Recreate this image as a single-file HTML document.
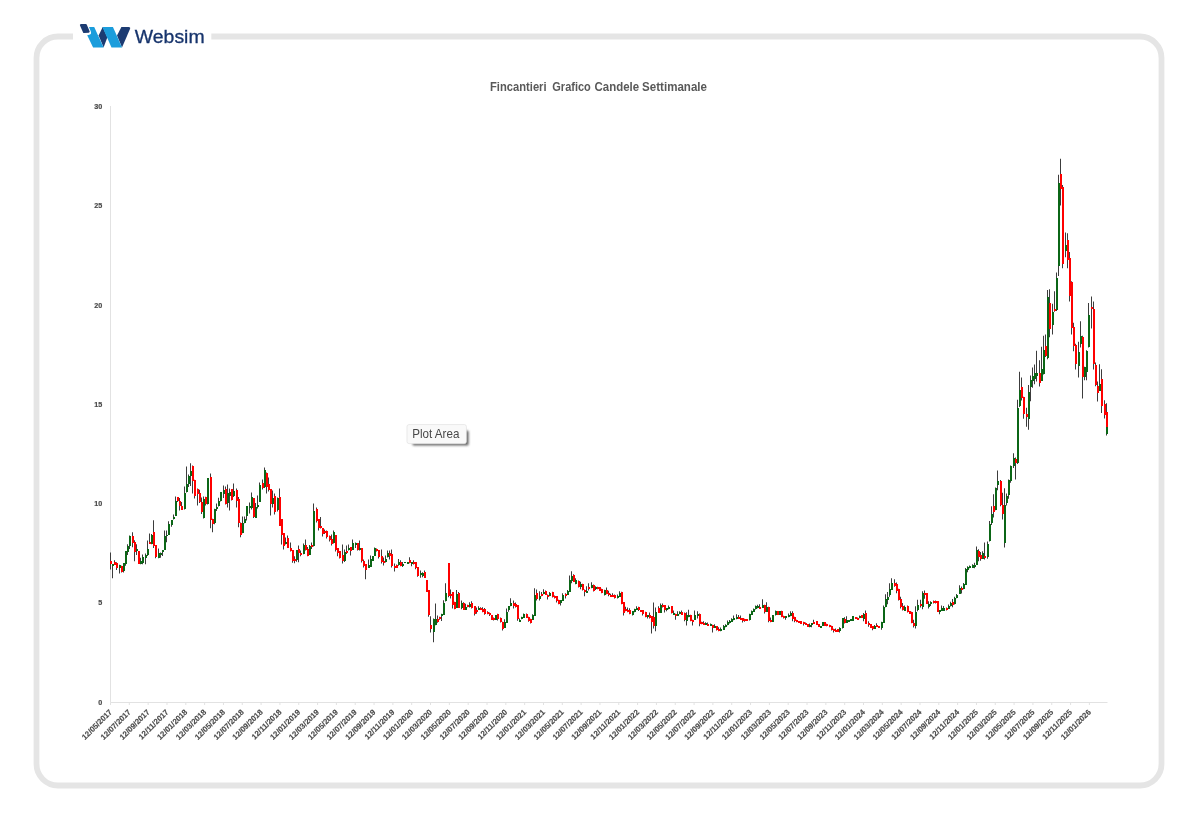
<!DOCTYPE html>
<html lang="it">
<head>
<meta charset="utf-8">
<title>Fincantieri Grafico Candele Settimanale</title>
<style>
html, body { margin: 0; padding: 0; background: #ffffff; }
body { width: 1198px; height: 822px; position: relative; overflow: hidden; font-family: "Liberation Sans", sans-serif; }
</style>
</head>
<body>
<svg style="position:absolute;left:0;top:0;display:block" width="1198" height="822" viewBox="0 0 1198 822">
<defs><filter id="sh" x="-10%" y="-30%" width="120%" height="160%"><feGaussianBlur stdDeviation="0.9"/></filter></defs>
<rect x="36.5" y="36.5" width="1125" height="749" rx="21.5" ry="21.5" fill="none" stroke="#e5e5e5" stroke-width="5.8"/>
<rect x="73" y="20" width="138.3" height="32" fill="#ffffff"/>
<g id="logo">
<path d="M80.9 25.1H85.9L88.7 31.7L84 32z" fill="#1c3b72" stroke="#1c3b72" stroke-width="2" stroke-linejoin="round"/>
<path d="M98.6 35.5L102.7 27L107.4 37.2L103.6 47.4z" fill="#1c3b72"/>
<path d="M121.4 27h7.2q2.2 0 1.4 2l-8 18.4L117 35.5z" fill="#1c3b72"/>
<path d="M89 27h5.2l9.4 20.4H93.1l-5.9-12.2q2.6-0.3 3.6-1.3q0.6-1 0-2.4z" fill="#1b9ddc"/>
<path d="M102.4 27h10.56l9.04 20.4h-10.5z" fill="#1b9ddc"/>
<text x="134.8" y="43.35" font-family="'Liberation Sans', sans-serif" font-size="18" fill="#17346c" stroke="#17346c" stroke-width="0.3" textLength="69.8" lengthAdjust="spacingAndGlyphs">Websim</text>
</g>
<text y="90.9" font-family="'Liberation Sans', sans-serif" font-weight="bold" font-size="12.2" fill="#595959"><tspan x="490" textLength="56.6" lengthAdjust="spacingAndGlyphs">Fincantieri</tspan> <tspan x="552.3" textLength="38.5" lengthAdjust="spacingAndGlyphs">Grafico</tspan> <tspan x="594.6" textLength="44.5" lengthAdjust="spacingAndGlyphs">Candele</tspan> <tspan x="642.1" textLength="64.9" lengthAdjust="spacingAndGlyphs">Settimanale</tspan></text>
<g id="axes">
<path d="M110.5 106.0V702.5H1107.5" stroke="#e2e2e2" stroke-width="1" fill="none"/>
<path d="M110.50 702.5v2.5M129.32 702.5v2.5M148.15 702.5v2.5M166.98 702.5v2.5M185.80 702.5v2.5M204.62 702.5v2.5M223.45 702.5v2.5M242.28 702.5v2.5M261.10 702.5v2.5M279.93 702.5v2.5M298.75 702.5v2.5M317.58 702.5v2.5M336.40 702.5v2.5M355.23 702.5v2.5M374.05 702.5v2.5M392.88 702.5v2.5M411.70 702.5v2.5M430.53 702.5v2.5M449.35 702.5v2.5M468.18 702.5v2.5M487.00 702.5v2.5M505.83 702.5v2.5M524.65 702.5v2.5M543.48 702.5v2.5M562.30 702.5v2.5M581.12 702.5v2.5M599.95 702.5v2.5M618.78 702.5v2.5M637.60 702.5v2.5M656.43 702.5v2.5M675.25 702.5v2.5M694.08 702.5v2.5M712.90 702.5v2.5M731.73 702.5v2.5M750.55 702.5v2.5M769.38 702.5v2.5M788.20 702.5v2.5M807.03 702.5v2.5M825.85 702.5v2.5M844.68 702.5v2.5M863.50 702.5v2.5M882.33 702.5v2.5M901.15 702.5v2.5M919.98 702.5v2.5M938.80 702.5v2.5M957.63 702.5v2.5M976.45 702.5v2.5M995.28 702.5v2.5M1014.10 702.5v2.5M1032.93 702.5v2.5M1051.75 702.5v2.5M1070.58 702.5v2.5M1089.40 702.5v2.5" stroke="#e2e2e2" stroke-width="1" fill="none"/>
<g font-family="'Liberation Sans', sans-serif" font-weight="bold" font-size="7.2" fill="#4a4a4a" stroke="#4a4a4a" stroke-width="0.2" text-anchor="end">
<text x="102.2" y="704.55">0</text>
<text x="102.2" y="605.29">5</text>
<text x="102.2" y="506.03">10</text>
<text x="102.2" y="406.77">15</text>
<text x="102.2" y="307.52">20</text>
<text x="102.2" y="208.26">25</text>
<text x="102.2" y="109.00">30</text>
</g>
<g font-family="'Liberation Sans', sans-serif" font-weight="bold" font-size="7.8" fill="#4a4a4a" stroke="#4a4a4a" stroke-width="0.15" text-anchor="end">
<text transform="translate(112.60 712.6) rotate(-45)">12/05/2017</text>
<text transform="translate(131.42 712.6) rotate(-45)">12/07/2017</text>
<text transform="translate(150.25 712.6) rotate(-45)">12/09/2017</text>
<text transform="translate(169.08 712.6) rotate(-45)">12/11/2017</text>
<text transform="translate(187.90 712.6) rotate(-45)">12/01/2018</text>
<text transform="translate(206.72 712.6) rotate(-45)">12/03/2018</text>
<text transform="translate(225.55 712.6) rotate(-45)">12/05/2018</text>
<text transform="translate(244.38 712.6) rotate(-45)">12/07/2018</text>
<text transform="translate(263.20 712.6) rotate(-45)">12/09/2018</text>
<text transform="translate(282.03 712.6) rotate(-45)">12/11/2018</text>
<text transform="translate(300.85 712.6) rotate(-45)">12/01/2019</text>
<text transform="translate(319.68 712.6) rotate(-45)">12/03/2019</text>
<text transform="translate(338.50 712.6) rotate(-45)">12/05/2019</text>
<text transform="translate(357.33 712.6) rotate(-45)">12/07/2019</text>
<text transform="translate(376.15 712.6) rotate(-45)">12/09/2019</text>
<text transform="translate(394.98 712.6) rotate(-45)">12/11/2019</text>
<text transform="translate(413.80 712.6) rotate(-45)">12/01/2020</text>
<text transform="translate(432.63 712.6) rotate(-45)">12/03/2020</text>
<text transform="translate(451.45 712.6) rotate(-45)">12/05/2020</text>
<text transform="translate(470.28 712.6) rotate(-45)">12/07/2020</text>
<text transform="translate(489.10 712.6) rotate(-45)">12/09/2020</text>
<text transform="translate(507.93 712.6) rotate(-45)">12/11/2020</text>
<text transform="translate(526.75 712.6) rotate(-45)">12/01/2021</text>
<text transform="translate(545.58 712.6) rotate(-45)">12/03/2021</text>
<text transform="translate(564.40 712.6) rotate(-45)">12/05/2021</text>
<text transform="translate(583.23 712.6) rotate(-45)">12/07/2021</text>
<text transform="translate(602.05 712.6) rotate(-45)">12/09/2021</text>
<text transform="translate(620.88 712.6) rotate(-45)">12/11/2021</text>
<text transform="translate(639.70 712.6) rotate(-45)">12/01/2022</text>
<text transform="translate(658.53 712.6) rotate(-45)">12/03/2022</text>
<text transform="translate(677.35 712.6) rotate(-45)">12/05/2022</text>
<text transform="translate(696.18 712.6) rotate(-45)">12/07/2022</text>
<text transform="translate(715.00 712.6) rotate(-45)">12/09/2022</text>
<text transform="translate(733.83 712.6) rotate(-45)">12/11/2022</text>
<text transform="translate(752.65 712.6) rotate(-45)">12/01/2023</text>
<text transform="translate(771.48 712.6) rotate(-45)">12/03/2023</text>
<text transform="translate(790.30 712.6) rotate(-45)">12/05/2023</text>
<text transform="translate(809.13 712.6) rotate(-45)">12/07/2023</text>
<text transform="translate(827.95 712.6) rotate(-45)">12/09/2023</text>
<text transform="translate(846.78 712.6) rotate(-45)">12/11/2023</text>
<text transform="translate(865.60 712.6) rotate(-45)">12/01/2024</text>
<text transform="translate(884.43 712.6) rotate(-45)">12/03/2024</text>
<text transform="translate(903.25 712.6) rotate(-45)">12/05/2024</text>
<text transform="translate(922.08 712.6) rotate(-45)">12/07/2024</text>
<text transform="translate(940.90 712.6) rotate(-45)">12/09/2024</text>
<text transform="translate(959.73 712.6) rotate(-45)">12/11/2024</text>
<text transform="translate(978.55 712.6) rotate(-45)">12/01/2025</text>
<text transform="translate(997.38 712.6) rotate(-45)">12/03/2025</text>
<text transform="translate(1016.20 712.6) rotate(-45)">12/05/2025</text>
<text transform="translate(1035.03 712.6) rotate(-45)">12/07/2025</text>
<text transform="translate(1053.85 712.6) rotate(-45)">12/09/2025</text>
<text transform="translate(1072.68 712.6) rotate(-45)">12/11/2025</text>
<text transform="translate(1091.50 712.6) rotate(-45)">12/01/2026</text>
</g>
</g>
<g id="candles">
<path d="M110.5 552.5V569.5M112.5 564V578.25M114.5 560.25V564.75M116.5 562.25V570M119.5 564.75V573.5M121.5 565.75V572.5M123.5 563.25V572.5M125.5 551.25V565.75M127.5 544.25V555M129.5 535.5V549M132.5 532.25V547.25M134.5 540.25V561.25M136.5 544.25V555M140.5 557.75V564.25M142.5 554.5V564.25M145.5 553.5V564.25M147.5 540.5V556M149.5 533.5V544M151.5 534V544.25M153.5 520.25V548M155.5 545.25V558.25M158.5 548.5V558.25M160.5 552.5V557.75M162.5 550.25V556M164.5 530.5V549.75M166.5 530.5V542.25M168.5 521.25V534.75M171.5 520V526.75M173.5 514.5V519.5M175.5 496.5V516M177.5 497V502M179.5 498V510.5M181.5 502V509.75M184.5 486.5V509.5M186.5 466.5V492.5M188.5 474.5V487M190.5 463.25V486M192.5 465.5V493.5M194.5 479.75V498.5M197.5 488.5V505.5M199.5 489.75V503M201.5 497.5V514M203.5 496.5V518.5M205.5 496.75V505.5M207.5 478V504.5M210.5 473.5V528.25M212.5 518.75V532.25M214.5 508.75V524.25M216.5 503.5V511M218.5 497.75V506.5M220.5 492V501.5M223.5 485.5V498M225.5 486.5V504.5M227.5 484.5V507.5M229.5 488.5V510.5M231.5 489V500.5M233.5 483.5V497M236.5 488.5V507.5M238.5 497V527.25M240.5 522.5V537.25M242.5 516.5V533.25M244.5 516.5V523.25M246.5 506V520.5M249.5 502.5V513.5M251.5 492.5V509.5M253.5 498V518M255.5 503V518M257.5 495.5V508.5M259.5 482.5V502M262.5 479.5V489.5M264.5 467.5V488M266.5 472.5V493.5M268.5 477.5V491.5M270.5 489V515.5M272.5 490.5V507.5M274.5 493.5V514.5M277.5 497.5V511.5M279.5 488.5V525.75M281.5 519V544.5M283.5 533V549.5M285.5 537.5V544.5M287.5 535.5V548M290.5 542.5V551.5M292.5 550V562.75M294.5 556.25V563.25M296.5 550V561.75M298.5 545.5V562.25M300.5 550.5V556.25M303.5 543.5V554.25M305.5 539.5V550.5M307.5 547V556.25M309.5 545V555M311.5 542.5V549M313.5 503.5V546.5M316.5 507.5V522.5M318.5 519V530.5M320.5 517V528.5M322.5 528V536.5M324.5 529.5V534M326.5 530.5V538.5M329.5 535.5V541.5M331.5 534.5V545.5M333.5 530.5V543.5M335.5 535V551.5M337.5 548V556.25M339.5 551V558.5M342.5 544.5V563.5M344.5 549.5V562M346.5 545.5V554M348.5 544.5V550.5M350.5 547V555.5M352.5 539.5V550M355.5 542.5V548M357.5 543V550.5M359.5 540.5V550.5M361.5 548V562.5M363.5 559.5V567.5M365.5 564V579.25M368.5 559.5V568M370.5 555.5V567M374.5 547.5V556M376.5 548.5V551.5M378.5 550V558.5M381.5 549.5V563.5M383.5 557.5V565.5M385.5 555.5V562.5M387.5 550.5V557.5M389.5 550.5V559.5M391.5 549.5V567.5M394.5 563.5V571.5M396.5 564.5V568M398.5 559V565.75M400.5 560.25V566.25M402.5 562V567M409.5 557.25V563.25M411.5 562V566.25M413.5 560.25V564.5M415.5 562V569.25M417.5 567V576.75M420.5 570.5V577.75M422.5 572.25V577.25M424.5 570.5V577.75M428.5 590V616.75M430.5 616.25V632.5M433.5 618.5V642.25M435.5 603.5V625.25M437.5 615.5V622.75M439.5 616.75V619.75M441.5 613.75V621M443.5 600.25V615M445.5 583.25V601.5M448.5 563V597.25M450.5 589.5V598.5M452.5 592V608.5M454.5 601.75V609.25M456.5 590V608M458.5 592V608M461.5 600.5V609.25M463.5 602.25V610M465.5 603.75V610M467.5 604.75V607.25M469.5 602.25V607.5M471.5 601.25V608.5M474.5 606V615.5M476.5 607.5V613.75M478.5 606.25V610M480.5 607.25V610M482.5 607.25V612.25M484.5 608V614.75M487.5 611.25V614.25M489.5 612.5V616M493.5 617.5V620.5M497.5 613.75V620.5M500.5 617.5V622.5M502.5 621.75V630.5M504.5 619.25V628M506.5 608.5V623M508.5 606V611.75M510.5 598.25V606.25M513.5 600.5V608.5M515.5 602.5V607.5M517.5 605V620.75M519.5 618.5V622M521.5 616.75V619.25M523.5 613.5V618M526.5 613.5V618M528.5 616.75V621.75M530.5 618.75V623.5M532.5 614.25V620M534.5 588.25V616M536.5 589.5V600.5M539.5 591.25V600.5M541.5 592V596.25M543.5 589.25V594.25M545.5 590.5V595M547.5 594.5V599.5M549.5 592V596.25M552.5 591.75V597.5M554.5 595.5V598.5M556.5 596V602.5M558.5 599.75V604.25M560.5 600V605.5M562.5 593.25V601M565.5 593.25V598.5M567.5 590V595M569.5 575.5V591.75M571.5 571.25V583.25M573.5 574.25V582M575.5 578.25V584.25M578.5 580.5V587.5M580.5 581.75V589.25M582.5 583.75V590.5M584.5 589.5V596.25M586.5 586.25V593M588.5 583.25V590.5M591.5 582.25V588.25M593.5 584.5V591.5M595.5 586.25V590M597.5 586.75V589.25M601.5 588.75V593.25M604.5 589.75V595.5M606.5 587.5V594.25M608.5 590.75V596.25M610.5 593.75V597M612.5 593.25V597M614.5 594.5V598.5M617.5 594.5V598.5M619.5 591.25V597M621.5 591.75V604.25M623.5 602V615.5M625.5 606.75V611.25M627.5 607.5V612.25M629.5 608.25V614.25M632.5 611V615.5M634.5 608.75V612.25M636.5 606.25V610M638.5 606.75V611M642.5 610V615.5M645.5 611.75V617.25M647.5 615V618.5M649.5 612.5V618.5M651.5 616V633.5M653.5 602.5V628.5M655.5 607.5V631.25M658.5 606.25V613M660.5 603.5V612.75M662.5 603.5V607.5M664.5 605V612.5M666.5 608V611.25M668.5 605.5V609.25M671.5 606V613.5M673.5 610.5V615M675.5 613.75V619.75M677.5 611.25V616M679.5 611.25V614.25M681.5 610.5V615M684.5 612.5V621.25M686.5 612.25V625.5M688.5 609.75V617.25M690.5 614.75V621.25M692.5 619.75V625.5M694.5 610.5V620M697.5 611.25V618.5M699.5 613.5V626.25M701.5 621.75V624.25M703.5 621.25V625M705.5 622.25V625M707.5 622.5V626M710.5 623.5V626M712.5 624.75V632.5M714.5 624.25V628M716.5 626V630.5M718.5 627.25V631.25M720.5 627.5V631.25M723.5 625V630M725.5 624.25V627.25M727.5 620.5V625.25M729.5 620V623.5M731.5 618.25V622M733.5 615.5V620.25M736.5 614.25V619.25M738.5 615V619M740.5 615.5V620M742.5 618V622.5M744.5 618.75V621.75M749.5 613.75V620.5M751.5 610.5V615M753.5 608.5V612M755.5 605.5V609.5M757.5 604.75V608.25M759.5 604.25V609M762.5 599.25V607.75M764.5 604.75V613.5M766.5 602.25V612M768.5 606.75V622.25M770.5 617.5V622.25M775.5 610.5V615.5M781.5 610.75V617.25M783.5 615.75V618.5M785.5 616V619.75M788.5 613.5V617.25M790.5 611.25V616.25M792.5 611.25V621.25M794.5 616.75V622.25M796.5 619.75V622.25M803.5 621.75V625.5M805.5 622.5V625M809.5 623.5V627.25M811.5 623V627.25M813.5 619.75V624M826.5 623.75V626.25M829.5 624.75V627.25M831.5 625.75V630.5M833.5 628.75V632.5M835.5 628.5V632M839.5 627.25V632.5M842.5 618V628.5M844.5 617.25V623.5M846.5 616.25V622.75M857.5 617.5V620M859.5 615.5V618.25M863.5 613V621.25M865.5 610.5V624M868.5 621.25V626.75M872.5 626V630.25M874.5 625V629M876.5 623.25V627M881.5 621.75V629.75M883.5 605.5V622.75M885.5 594.25V607.25M887.5 592V604.25M889.5 583.25V596.75M891.5 578.25V589.75M894.5 579.25V586.75M896.5 582.5V593.25M898.5 588.75V600.5M900.5 596.75V608.5M902.5 603V610.5M904.5 605.5V611M907.5 605.5V612.5M911.5 611.75V623.25M913.5 619.75V627.5M915.5 606.25V628.5M917.5 599.75V611.25M920.5 599.75V607.5M922.5 591.25V609.25M924.5 590.5V598.75M928.5 601.25V608.5M930.5 601.25V606M933.5 600.5V603.5M935.5 600.5V603.5M939.5 610V614.25M941.5 605.5V611M943.5 606V610.75M946.5 607.5V610.5M948.5 604.5V609M950.5 601.75V606.5M952.5 599V607.25M954.5 596.75V604.5M956.5 594V598.25M959.5 585.25V594M961.5 586.5V593.5M963.5 583V589.25M965.5 568V584.75M967.5 566.25V572.25M969.5 565.5V568.25M972.5 564.25V568M974.5 562.75V568.25M976.5 546.5V565M978.5 549.25V561.25M980.5 552V560.75M982.5 551.25V559M984.5 542.5V559.5M987.5 541.5V558.75M989.5 521V541.5M991.5 506.25V525M993.5 494.25V517.5M995.5 487.5V510.25M997.5 470.5V490.25M1000.5 480V506.25M1002.5 492.75V519.5M1004.5 488.25V547.5M1006.5 493.5V505.5M1008.5 479.5V498.75M1010.5 465.5V482.75M1013.5 453.25V468M1015.5 457.5V479.5M1017.5 399.75V464M1019.5 371.75V407M1021.5 377.5V400.5M1023.5 396.75V418.75M1026.5 407.75V426.75M1028.5 385V429.75M1030.5 375.5V401.25M1032.5 367.5V387.75M1034.5 364.5V384.25M1036.5 350.75V381.5M1039.5 360.25V386.5M1041.5 346.75V381M1043.5 335.75V374.5M1045.5 334.5V357M1047.5 290V359.25M1049.5 289.25V337.25M1052.5 303.75V334.5M1054.5 291.25V311.75M1056.5 272.5V311M1058.5 174.75V276M1060.5 158.75V205.5M1062.5 185V268.25M1065.5 232.5V257.25M1067.5 233.25V268.25M1069.5 252V301.5M1071.5 281.25V334.5M1073.5 322.75V351.25M1075.5 343.75V369.5M1078.5 341.75V377.5M1080.5 321.25V347.5M1082.5 335.75V398.5M1084.5 366.75V380.25M1086.5 350.25V380.25M1088.5 303V347.5M1091.5 296.5V328.5M1093.5 301.5V369.5M1095.5 362.5V386.25M1097.5 381.5V401.5M1099.5 364.25V391M1101.5 369.25V413M1104.5 400.25V418.5M1106.5 403.25V427.5M1106.5 426.5V435.5" stroke="#3c3c3c" stroke-width="1" fill="none"/>
<path d="M112 564h2V566h-2zM119 565h2V568h-2zM123 563h2V571h-2zM125 551h2V564h-2zM127 546h2V552h-2zM129 536h2V546h-2zM136 549h2V551h-2zM140 561h2V564h-2zM142 557h2V563h-2zM145 555h2V558h-2zM147 549h2V555h-2zM151 535h2V544h-2zM158 553h2V558h-2zM160 553h2V555h-2zM162 550h2V552h-2zM164 536h2V550h-2zM166 535h2V536h-2zM168 524h2V535h-2zM171 520h2V525h-2zM173 517h2V519h-2zM175 501h2V516h-2zM184 493h2V509h-2zM186 484h2V492h-2zM188 476h2V484h-2zM190 471h2V476h-2zM203 499h2V518h-2zM207 478h2V504h-2zM214 509h2V523h-2zM216 507h2V509h-2zM218 501h2V506h-2zM220 492h2V501h-2zM223 490h2V494h-2zM227 493h2V503h-2zM229 492h2V496h-2zM233 491h2V496h-2zM242 523h2V533h-2zM244 519h2V523h-2zM246 506h2V516h-2zM249 506h2V508h-2zM251 497h2V508h-2zM255 507h2V518h-2zM257 505h2V507h-2zM259 485h2V502h-2zM264 470h2V487h-2zM272 498h2V504h-2zM277 498h2V510h-2zM285 542h2V544h-2zM296 550h2V560h-2zM303 545h2V554h-2zM309 546h2V555h-2zM313 511h2V546h-2zM333 532h2V543h-2zM344 552h2V561h-2zM348 548h2V550h-2zM352 543h2V550h-2zM355 543h2V545h-2zM359 548h2V550h-2zM368 565h2V568h-2zM370 559h2V567h-2zM372 556h2V561h-2zM374 548h2V556h-2zM385 559h2V562h-2zM387 553h2V557h-2zM398 562h2V565h-2zM402 564h2V566h-2zM404 562h2V563h-2zM407 562h2V564h-2zM411 562h2V564h-2zM420 573h2V575h-2zM422 573h2V576h-2zM433 619h2V632h-2zM435 619h2V625h-2zM441 614h2V616h-2zM443 603h2V615h-2zM445 593h2V601h-2zM456 594h2V608h-2zM461 603h2V608h-2zM465 607h2V610h-2zM469 604h2V607h-2zM478 608h2V610h-2zM495 615h2V620h-2zM504 622h2V628h-2zM506 612h2V623h-2zM508 606h2V610h-2zM510 603h2V606h-2zM519 620h2V622h-2zM521 617h2V619h-2zM523 614h2V618h-2zM532 615h2V620h-2zM534 595h2V616h-2zM539 596h2V599h-2zM543 592h2V594h-2zM549 593h2V596h-2zM560 600h2V603h-2zM562 595h2V601h-2zM567 591h2V595h-2zM569 580h2V592h-2zM571 576h2V581h-2zM575 580h2V584h-2zM580 584h2V587h-2zM586 591h2V593h-2zM591 585h2V588h-2zM595 587h2V589h-2zM604 590h2V595h-2zM617 596h2V598h-2zM619 593h2V597h-2zM632 611h2V615h-2zM634 609h2V612h-2zM636 608h2V610h-2zM647 615h2V617h-2zM655 612h2V626h-2zM660 605h2V613h-2zM666 608h2V610h-2zM668 607h2V609h-2zM673 613h2V615h-2zM677 614h2V616h-2zM679 612h2V614h-2zM686 615h2V621h-2zM688 615h2V617h-2zM694 615h2V620h-2zM697 614h2V616h-2zM705 623h2V625h-2zM710 624h2V626h-2zM714 626h2V628h-2zM720 629h2V631h-2zM723 626h2V630h-2zM725 625h2V627h-2zM727 622h2V625h-2zM729 621h2V623h-2zM731 619h2V622h-2zM733 618h2V620h-2zM736 617h2V619h-2zM749 614h2V620h-2zM751 611h2V615h-2zM753 609h2V612h-2zM755 606h2V609h-2zM757 606h2V608h-2zM762 605h2V608h-2zM766 607h2V612h-2zM772 615h2V622h-2zM775 611h2V615h-2zM779 611h2V615h-2zM785 616h2V618h-2zM788 615h2V617h-2zM790 613h2V616h-2zM809 625h2V627h-2zM811 623h2V625h-2zM820 626h2V628h-2zM822 622h2V626h-2zM839 628h2V631h-2zM842 618h2V628h-2zM846 620h2V623h-2zM848 620h2V622h-2zM850 619h2V621h-2zM852 616h2V621h-2zM859 616h2V618h-2zM863 614h2V619h-2zM874 626h2V629h-2zM881 622h2V628h-2zM883 607h2V623h-2zM885 599h2V607h-2zM887 597h2V600h-2zM889 589h2V595h-2zM891 583h2V590h-2zM904 607h2V611h-2zM915 612h2V626h-2zM917 605h2V610h-2zM922 593h2V607h-2zM928 604h2V607h-2zM930 602h2V604h-2zM939 610h2V612h-2zM941 608h2V611h-2zM943 608h2V611h-2zM948 606h2V609h-2zM950 603h2V606h-2zM954 598h2V604h-2zM956 595h2V598h-2zM959 588h2V594h-2zM963 584h2V589h-2zM965 569h2V585h-2zM967 567h2V570h-2zM969 566h2V568h-2zM972 565h2V568h-2zM974 565h2V567h-2zM976 550h2V565h-2zM982 553h2V559h-2zM987 544h2V557h-2zM989 524h2V541h-2zM991 514h2V523h-2zM995 488h2V510h-2zM997 481h2V485h-2zM1004 505h2V543h-2zM1006 496h2V503h-2zM1008 480h2V495h-2zM1010 466h2V481h-2zM1013 458h2V466h-2zM1017 408h2V463h-2zM1019 390h2V406h-2zM1028 392h2V419h-2zM1030 380h2V387h-2zM1032 376h2V381h-2zM1034 373h2V379h-2zM1036 373h2V376h-2zM1041 369h2V381h-2zM1043 350h2V374h-2zM1047 297h2V358h-2zM1052 312h2V325h-2zM1056 278h2V310h-2zM1058 183h2V266h-2zM1065 245h2V251h-2zM1078 352h2V366h-2zM1080 336h2V344h-2zM1084 367h2V377h-2zM1086 351h2V372h-2zM1088 315h2V347h-2zM1099 384h2V391h-2zM1106 427h2V434h-2z" fill="#0b6616"/>
<path d="M110 561h2V564h-2zM114 562h2V565h-2zM116 563h2V568h-2zM121 566h2V572h-2zM132 536h2V543h-2zM134 542h2V552h-2zM138 551h2V564h-2zM149 542h2V544h-2zM153 532h2V546h-2zM155 545h2V557h-2zM177 497h2V501h-2zM179 501h2V506h-2zM181 506h2V510h-2zM192 466h2V481h-2zM194 480h2V496h-2zM197 489h2V494h-2zM199 493h2V502h-2zM201 502h2V512h-2zM205 497h2V504h-2zM210 477h2V520h-2zM212 519h2V524h-2zM225 489h2V504h-2zM231 489h2V500h-2zM236 490h2V501h-2zM238 499h2V523h-2zM240 523h2V535h-2zM253 498h2V517h-2zM262 483h2V488h-2zM266 473h2V487h-2zM268 484h2V490h-2zM270 489h2V504h-2zM274 496h2V512h-2zM279 497h2V526h-2zM281 519h2V535h-2zM283 533h2V546h-2zM287 538h2V548h-2zM290 548h2V551h-2zM292 550h2V561h-2zM294 559h2V561h-2zM298 549h2V553h-2zM300 553h2V555h-2zM305 545h2V550h-2zM307 549h2V556h-2zM311 545h2V547h-2zM316 509h2V521h-2zM318 519h2V528h-2zM320 526h2V528h-2zM322 528h2V534h-2zM324 531h2V533h-2zM326 531h2V537h-2zM329 536h2V540h-2zM331 539h2V544h-2zM335 535h2V550h-2zM337 548h2V553h-2zM339 551h2V558h-2zM342 555h2V561h-2zM346 551h2V553h-2zM350 547h2V551h-2zM357 543h2V550h-2zM361 548h2V561h-2zM363 561h2V566h-2zM365 564h2V570h-2zM376 549h2V551h-2zM378 550h2V557h-2zM381 556h2V562h-2zM383 561h2V563h-2zM389 553h2V556h-2zM391 554h2V566h-2zM394 566h2V568h-2zM396 565h2V568h-2zM400 562h2V566h-2zM409 560h2V563h-2zM413 562h2V564h-2zM415 562h2V568h-2zM417 567h2V576h-2zM424 572h2V578h-2zM426 580h2V592h-2zM428 590h2V615h-2zM430 625h2V629h-2zM437 619h2V622h-2zM439 617h2V619h-2zM448 563h2V596h-2zM450 594h2V596h-2zM452 592h2V605h-2zM454 602h2V609h-2zM458 593h2V608h-2zM463 603h2V610h-2zM467 605h2V607h-2zM471 603h2V608h-2zM474 606h2V614h-2zM476 610h2V612h-2zM480 608h2V610h-2zM482 609h2V612h-2zM484 609h2V614h-2zM487 612h2V614h-2zM489 613h2V615h-2zM491 615h2V620h-2zM493 618h2V620h-2zM497 614h2V619h-2zM500 618h2V622h-2zM502 622h2V629h-2zM513 603h2V606h-2zM515 604h2V607h-2zM517 605h2V619h-2zM526 614h2V618h-2zM528 617h2V621h-2zM530 619h2V623h-2zM536 593h2V599h-2zM541 594h2V596h-2zM545 591h2V595h-2zM547 595h2V597h-2zM552 592h2V597h-2zM554 596h2V598h-2zM556 596h2V601h-2zM558 600h2V604h-2zM565 594h2V596h-2zM573 575h2V582h-2zM578 581h2V587h-2zM582 584h2V590h-2zM584 590h2V592h-2zM588 587h2V589h-2zM593 585h2V591h-2zM597 587h2V589h-2zM599 587h2V591h-2zM601 589h2V593h-2zM606 590h2V594h-2zM608 593h2V595h-2zM610 595h2V597h-2zM612 595h2V597h-2zM614 595h2V598h-2zM621 592h2V604h-2zM623 602h2V613h-2zM625 609h2V611h-2zM627 610h2V612h-2zM629 610h2V614h-2zM638 607h2V610h-2zM640 610h2V612h-2zM642 610h2V614h-2zM645 612h2V617h-2zM649 615h2V618h-2zM651 616h2V622h-2zM653 617h2V626h-2zM658 608h2V613h-2zM662 605h2V607h-2zM664 605h2V610h-2zM671 606h2V613h-2zM675 614h2V616h-2zM681 612h2V615h-2zM684 613h2V620h-2zM690 615h2V621h-2zM692 620h2V622h-2zM699 614h2V624h-2zM701 622h2V624h-2zM703 623h2V625h-2zM707 624h2V626h-2zM712 625h2V628h-2zM716 626h2V630h-2zM718 629h2V631h-2zM738 617h2V619h-2zM740 618h2V620h-2zM742 618h2V621h-2zM744 619h2V621h-2zM746 619h2V621h-2zM759 607h2V609h-2zM764 605h2V612h-2zM768 607h2V621h-2zM770 620h2V622h-2zM777 611h2V615h-2zM781 611h2V617h-2zM783 616h2V618h-2zM792 613h2V619h-2zM794 617h2V621h-2zM796 620h2V622h-2zM798 621h2V623h-2zM800 621h2V624h-2zM803 622h2V624h-2zM805 623h2V625h-2zM807 624h2V627h-2zM813 622h2V624h-2zM816 621h2V625h-2zM818 624h2V627h-2zM824 622h2V626h-2zM826 624h2V626h-2zM829 625h2V627h-2zM831 626h2V630h-2zM833 629h2V631h-2zM835 630h2V632h-2zM837 629h2V632h-2zM844 619h2V623h-2zM855 617h2V619h-2zM857 618h2V620h-2zM861 615h2V618h-2zM865 613h2V624h-2zM868 623h2V625h-2zM870 624h2V628h-2zM872 626h2V629h-2zM876 625h2V627h-2zM878 626h2V628h-2zM894 583h2V586h-2zM896 584h2V591h-2zM898 589h2V600h-2zM900 599h2V607h-2zM902 606h2V610h-2zM907 606h2V612h-2zM909 611h2V614h-2zM911 612h2V623h-2zM913 623h2V626h-2zM920 604h2V606h-2zM924 593h2V595h-2zM926 593h2V604h-2zM933 601h2V603h-2zM935 601h2V603h-2zM937 601h2V612h-2zM946 608h2V610h-2zM952 602h2V605h-2zM961 588h2V590h-2zM978 551h2V557h-2zM980 555h2V559h-2zM984 556h2V558h-2zM993 506h2V512h-2zM1000 481h2V505h-2zM1002 505h2V514h-2zM1015 459h2V463h-2zM1021 387h2V398h-2zM1023 397h2V414h-2zM1026 414h2V417h-2zM1039 373h2V383h-2zM1045 346h2V356h-2zM1049 303h2V329h-2zM1054 309h2V311h-2zM1060 174h2V189h-2zM1062 187h2V264h-2zM1067 240h2V260h-2zM1069 258h2V296h-2zM1071 282h2V328h-2zM1073 327h2V346h-2zM1075 345h2V364h-2zM1082 337h2V377h-2zM1091 307h2V309h-2zM1093 309h2V364h-2zM1095 365h2V385h-2zM1097 386h2V393h-2zM1101 379h2V406h-2zM1104 404h2V415h-2zM1106 412h2V427h-2z" fill="#ff0000"/>
</g>
<g id="tooltip">
<rect x="412.5" y="430.5" width="56.2" height="15" rx="1.5" fill="#6a6a6a" filter="url(#sh)"/>
<rect x="406.95" y="424.55" width="59.5" height="19.1" rx="2.2" fill="#f9f9f9" stroke="#dedede" stroke-width="0.6"/>
<text x="412.2" y="438.0" font-family="'Liberation Sans', sans-serif" font-size="12.2" fill="#484848" textLength="47.2" lengthAdjust="spacingAndGlyphs">Plot Area</text>
</g>
</svg>
</body>
</html>
